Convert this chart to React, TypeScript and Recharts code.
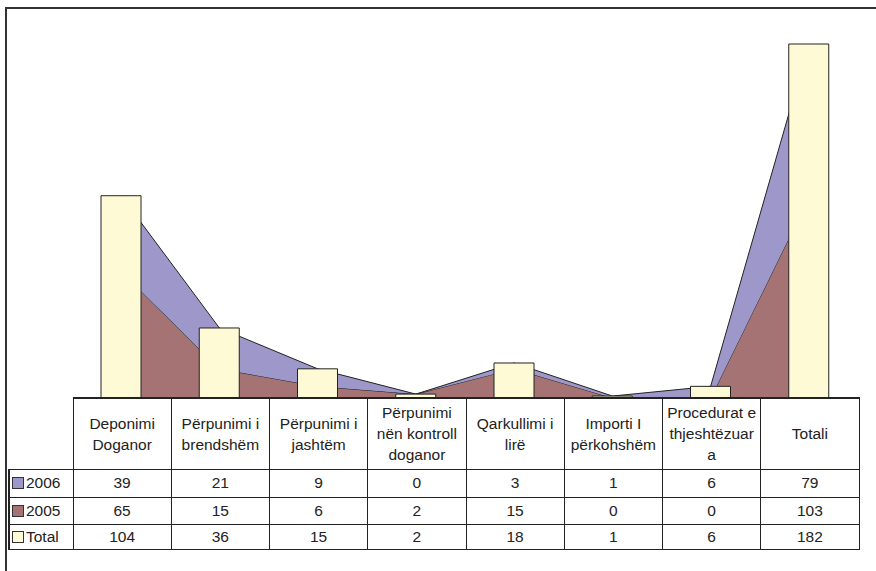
import { ComposedChart, Area, Bar, XAxis, YAxis } from 'recharts'

const categories = [
  'Deponimi\nDoganor',
  'Përpunimi i\nbrendshëm',
  'Përpunimi i\njashtëm',
  'Përpunimi\nnën kontroll\ndoganor',
  'Qarkullimi i\nlirë',
  'Importi I\npërkohshëm',
  'Procedurat e\nthjeshtëzuar\na',
  'Totali',
]
const values2006 = [39, 21, 9, 0, 3, 1, 6, 79]
const values2005 = [65, 15, 6, 2, 15, 0, 0, 103]
const totals = [104, 36, 15, 2, 18, 1, 6, 182]

const C2006 = '#9d98c9'
const C2005 = '#a57373'
const CTOTAL = '#fffad6'
const INK = '#222'

const rows = [
  { label: '2006', color: C2006, values: values2006, h: 28 },
  { label: '2005', color: C2005, values: values2005, h: 27 },
  { label: 'Total', color: CTOTAL, values: totals, h: 25 },
]

const data = categories.map((c, i) => ({
  name: c,
  y2005: values2005[i],
  y2006: values2006[i],
  total: totals[i],
}))

const font = '"Liberation Sans", Arial, sans-serif'
const colW = 98.25
const cell = { border: `1px solid ${INK}`, textAlign: 'center' as const, padding: 0, color: '#222' }

export default function App() {
  return (
    <div style={{ position: 'absolute', left: 0, top: 0, width: 876, height: 571, overflow: 'hidden', background: '#fff', fontFamily: font }}>
      {/* outer frame */}
      <div style={{ position: 'absolute', left: 5, top: 7, width: 900, height: 600, border: '2px solid #333' }} />

      <div style={{ position: 'absolute', left: 0, top: 0 }}>
        <ComposedChart width={876} height={400} data={data} margin={{ top: 9, right: 18, left: 72, bottom: 2 }} barCategoryGap={0}>
          <XAxis dataKey="name" hide />
          <YAxis hide domain={[0, 200]} />
          <Area type="linear" dataKey="y2005" stackId="a" fill={C2005} fillOpacity={1} stroke={INK} strokeWidth={1} isAnimationActive={false} />
          <Area type="linear" dataKey="y2006" stackId="a" fill={C2006} fillOpacity={1} stroke={INK} strokeWidth={1} isAnimationActive={false} />
          <Bar dataKey="total" barSize={40} fill={CTOTAL} stroke={INK} strokeWidth={1} isAnimationActive={false} />
        </ComposedChart>
      </div>

      {/* data table */}
      <table
        style={{
          position: 'absolute',
          left: 8,
          top: 397,
          width: 64 + colW * 8,
          borderCollapse: 'collapse',
          tableLayout: 'fixed',
          fontSize: 15.5,
          fontFamily: font,
        }}
      >
        <colgroup>
          <col style={{ width: 64 }} />
          {categories.map((c) => (
            <col key={c} style={{ width: colW }} />
          ))}
        </colgroup>
        <tbody>
          <tr style={{ height: 71 }}>
            <td style={{ padding: 0, borderRight: `1px solid ${INK}` }} />
            {categories.map((c) => (
              <td key={c} style={{ ...cell, borderTop: `2px solid ${INK}`, whiteSpace: 'pre', lineHeight: '21px' }}>
                {c}
              </td>
            ))}
          </tr>
          {rows.map((r) => (
            <tr key={r.label} style={{ height: r.h }}>
              <td style={{ ...cell, textAlign: 'left', borderLeft: `2px solid ${INK}`, whiteSpace: 'nowrap', paddingLeft: 2 }}>
                <span
                  style={{
                    display: 'inline-block',
                    width: 10,
                    height: 10,
                    background: r.color,
                    border: '1px solid #333',
                    marginRight: 2,
                    verticalAlign: -1,
                  }}
                />
                {r.label}
              </td>
              {r.values.map((v, i) => (
                <td key={i} style={cell}>
                  {v}
                </td>
              ))}
            </tr>
          ))}
        </tbody>
      </table>
    </div>
  )
}
